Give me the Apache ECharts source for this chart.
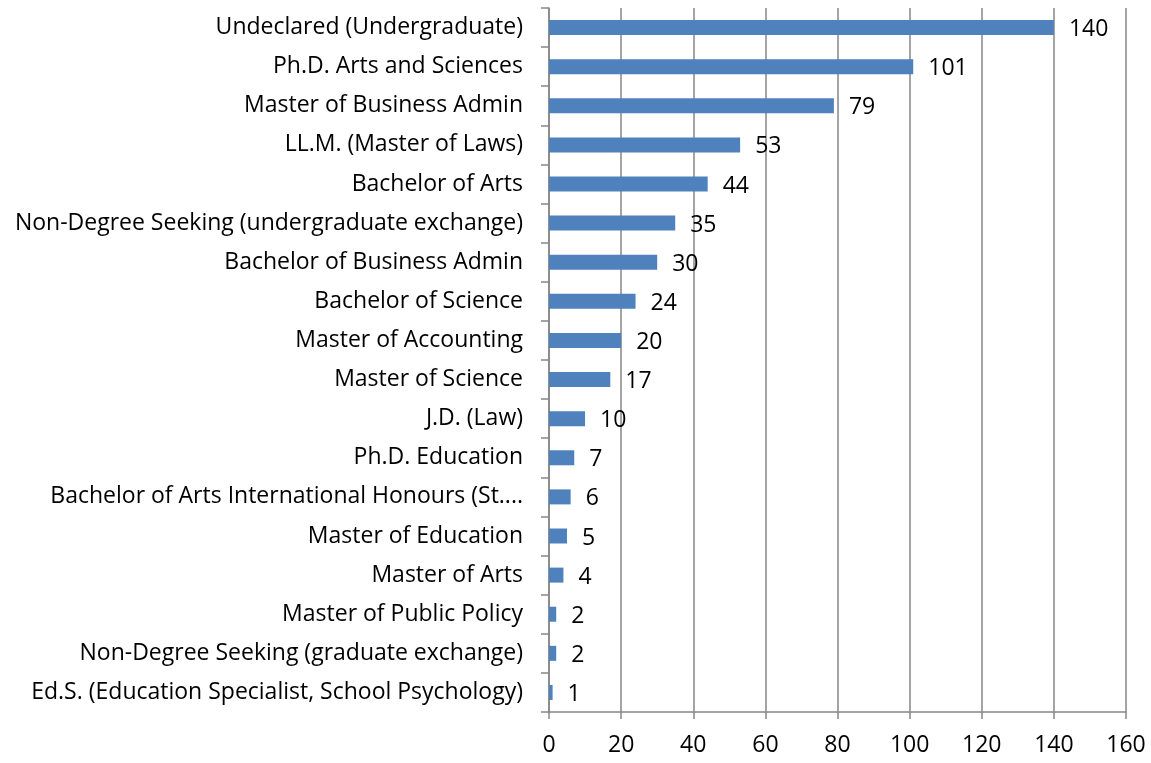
<!DOCTYPE html>
<html>
<head>
<meta charset="utf-8">
<script src="https://cdn.jsdelivr.net/npm/echarts@6/dist/echarts.min.js"></script>
<style>
  html, body { margin: 0; padding: 0; background: #fff; }
  #chart { width: 1151px; height: 763px; }
</style>
</head>
<body>
<div id="chart"></div>
<script>
// program names, top to bottom as drawn
const programs = [
  'Undeclared (Undergraduate)',
  'Ph.D. Arts and Sciences',
  'Master of Business Admin',
  'LL.M. (Master of Laws)',
  'Bachelor of Arts',
  'Non-Degree Seeking (undergraduate exchange)',
  'Bachelor of Business Admin',
  'Bachelor of Science',
  'Master of Accounting',
  'Master of Science',
  'J.D. (Law)',
  'Ph.D. Education',
  'Bachelor of Arts International Honours (St....',
  'Master of Education',
  'Master of Arts',
  'Master of Public Policy',
  'Non-Degree Seeking (graduate exchange)',
  'Ed.S. (Education Specialist, School Psychology)'
]
const students = [140, 101, 79, 53, 44, 35, 30, 24, 20, 17, 10, 7, 6, 5, 4, 2, 2, 1]

const FONT = 'Open Sans'
const GRAY = '#868686'

const chart = echarts.init(document.getElementById('chart'))
chart.setOption({
  animation: false,
  grid: { left: 549, right: 25, top: 8, bottom: 51 },
  xAxis: {
    type: 'value', min: 0, max: 160, interval: 20,
    axisLine: { show: true, lineStyle: { color: GRAY, width: 1.5 } },
    axisTick: { show: true, length: 7, lineStyle: { color: GRAY, width: 1.5 } },
    splitLine: { show: true, lineStyle: { color: GRAY, width: 1.5 } },
    axisLabel: { color: '#000', fontFamily: FONT, fontSize: 23, margin: 22 }
  },
  yAxis: {
    type: 'category', inverse: true, data: programs,
    axisLine: { show: true, lineStyle: { color: GRAY, width: 1.5 } },
    axisTick: { show: true, length: 8, alignWithLabel: false, lineStyle: { color: GRAY, width: 1.5 } },
    axisLabel: { color: '#000', fontFamily: FONT, fontSize: 23, margin: 26, padding: [3, 0, 0, 0] }
  },
  series: [{
    type: 'bar', data: students, barWidth: 15,
    itemStyle: { color: '#4f81bd' },
    label: {
      show: true, position: 'right', distance: 15, offset: [0, 2],
      color: '#000', fontFamily: FONT, fontSize: 23
    }
  }]
})
</script>
</body>
</html>
